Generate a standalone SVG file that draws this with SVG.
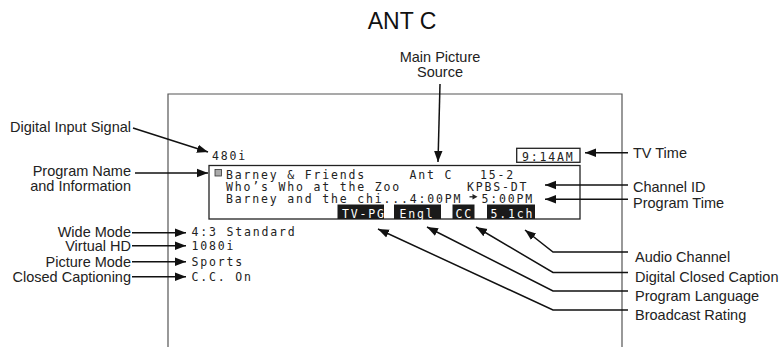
<svg xmlns="http://www.w3.org/2000/svg" width="784" height="347" viewBox="0 0 784 347">
<defs>
<marker id="ah" markerUnits="userSpaceOnUse" markerWidth="12" markerHeight="10" viewBox="0 0 12 10" refX="11" refY="5" orient="auto">
<path d="M0,0.8 L11,5 L0,9.2 Z" fill="#111"/>
</marker>
<style>
.lbl{font-family:"Liberation Sans",Arial,sans-serif;font-size:14.5px;fill:#222}
.mono{font-family:"DejaVu Sans Mono",monospace;font-size:11.5px;letter-spacing:1.83px;fill:#222}
.badge{fill:#1a1a1a}
.btxt{font-family:"DejaVu Sans Mono",monospace;font-size:11.5px;letter-spacing:1.83px;fill:#fff}
.frame{fill:none;stroke:#555;stroke-width:1.2}
.box{fill:none;stroke:#222;stroke-width:1.3}
.ld{fill:none;stroke:#111;stroke-width:1.5;marker-end:url(#ah)}
</style>
</defs>
<rect width="784" height="347" fill="#fff"/>
<text x="402" y="29" text-anchor="middle" font-family="Liberation Sans, Arial, sans-serif" font-size="23" fill="#111">ANT C</text>
<g id="tv-screen">
<path class="frame" d="M168,347 V94 H622 V347"/>
</g>
<g id="osd">
<text class="mono" x="212" y="160">480i</text>
<rect class="box" x="516.7" y="148.3" width="63.3" height="14"/>
<text class="mono" x="522" y="160.5">9:14AM</text>
<rect class="box" x="209" y="165.5" width="371" height="53.5"/>
<rect x="215" y="169.5" width="6.5" height="6.5" fill="#aaa" stroke="#333" stroke-width="0.8"/>
<text class="mono" x="226" y="179.3">Barney &amp; Friends</text>
<text class="mono" x="409.5" y="179.3">Ant C</text>
<text class="mono" x="480" y="179.3">15-2</text>
<text class="mono" x="226" y="191">Who’s Who at the Zoo</text>
<text class="mono" x="467" y="191">KPBS-DT</text>
<text class="mono" x="226" y="202.7">Barney and the chi...4:00PM</text>
<path d="M469.5,196.8 H473" stroke="#222" stroke-width="1.3"/>
<path d="M472.5,194 L477.5,196.8 L472.5,199.6 Z" fill="#222"/>
<text class="mono" x="481.5" y="202.7">5:00PM</text>
<rect class="badge" x="337.5" y="204.5" width="46.5" height="14.5"/>
<text class="btxt" x="342" y="217.7">TV-PG</text>
<rect class="badge" x="394" y="204.5" width="47" height="14.5"/>
<text class="btxt" x="399.5" y="217.7">Engl</text>
<rect class="badge" x="452.5" y="204.5" width="22" height="14.5"/>
<text class="btxt" x="455.5" y="217.7">CC</text>
<rect class="badge" x="487" y="204.5" width="48" height="14.5"/>
<text class="btxt" x="490.5" y="217.7">5.1ch</text>
<text class="mono" x="191.5" y="235.5">4:3 Standard</text>
<text class="mono" x="191.5" y="250">1080i</text>
<text class="mono" x="191.5" y="265.5">Sports</text>
<text class="mono" x="191.5" y="281">C.C. On</text>
</g>
<g id="labels">
<text class="lbl" x="440" y="62" text-anchor="middle">Main Picture</text>
<text class="lbl" x="440" y="77" text-anchor="middle">Source</text>
<text class="lbl" x="131" y="132" text-anchor="end">Digital Input Signal</text>
<text class="lbl" x="131" y="176" text-anchor="end">Program Name</text>
<text class="lbl" x="131" y="190.5" text-anchor="end">and Information</text>
<text class="lbl" x="131" y="236.5" text-anchor="end">Wide Mode</text>
<text class="lbl" x="131" y="251" text-anchor="end">Virtual HD</text>
<text class="lbl" x="131" y="266.5" text-anchor="end">Picture Mode</text>
<text class="lbl" x="131" y="282" text-anchor="end">Closed Captioning</text>
<text class="lbl" x="633" y="158">TV Time</text>
<text class="lbl" x="633" y="191.5">Channel ID</text>
<text class="lbl" x="633" y="208">Program Time</text>
<text class="lbl" x="635" y="261.5">Audio Channel</text>
<text class="lbl" x="635" y="281.5">Digital Closed Caption</text>
<text class="lbl" x="635" y="301">Program Language</text>
<text class="lbl" x="635" y="320">Broadcast Rating</text>
</g>
<g id="connectors">
<path class="ld" d="M440,84 L438,162"/>
<path class="ld" d="M133,128 L208,152"/>
<path class="ld" d="M135,173 L208,173"/>
<path class="ld" d="M628,152.7 L585,152.7"/>
<path class="ld" d="M628,185 L545,185"/>
<path class="ld" d="M628,199.3 L545,199.3"/>
<path class="ld" d="M132,232.7 L186,232.7"/>
<path class="ld" d="M132,245.7 L186,245.7"/>
<path class="ld" d="M132,261.7 L186,261.7"/>
<path class="ld" d="M132,276.7 L186,276.7"/>
<path class="ld" d="M628,252 L553,252 L525,230"/>
<path class="ld" d="M628,272.5 L553,272.5 L476,227"/>
<path class="ld" d="M628,291 L553,291 L427,227"/>
<path class="ld" d="M628,310 L553,310 L378,229"/>
</g>
</svg>
